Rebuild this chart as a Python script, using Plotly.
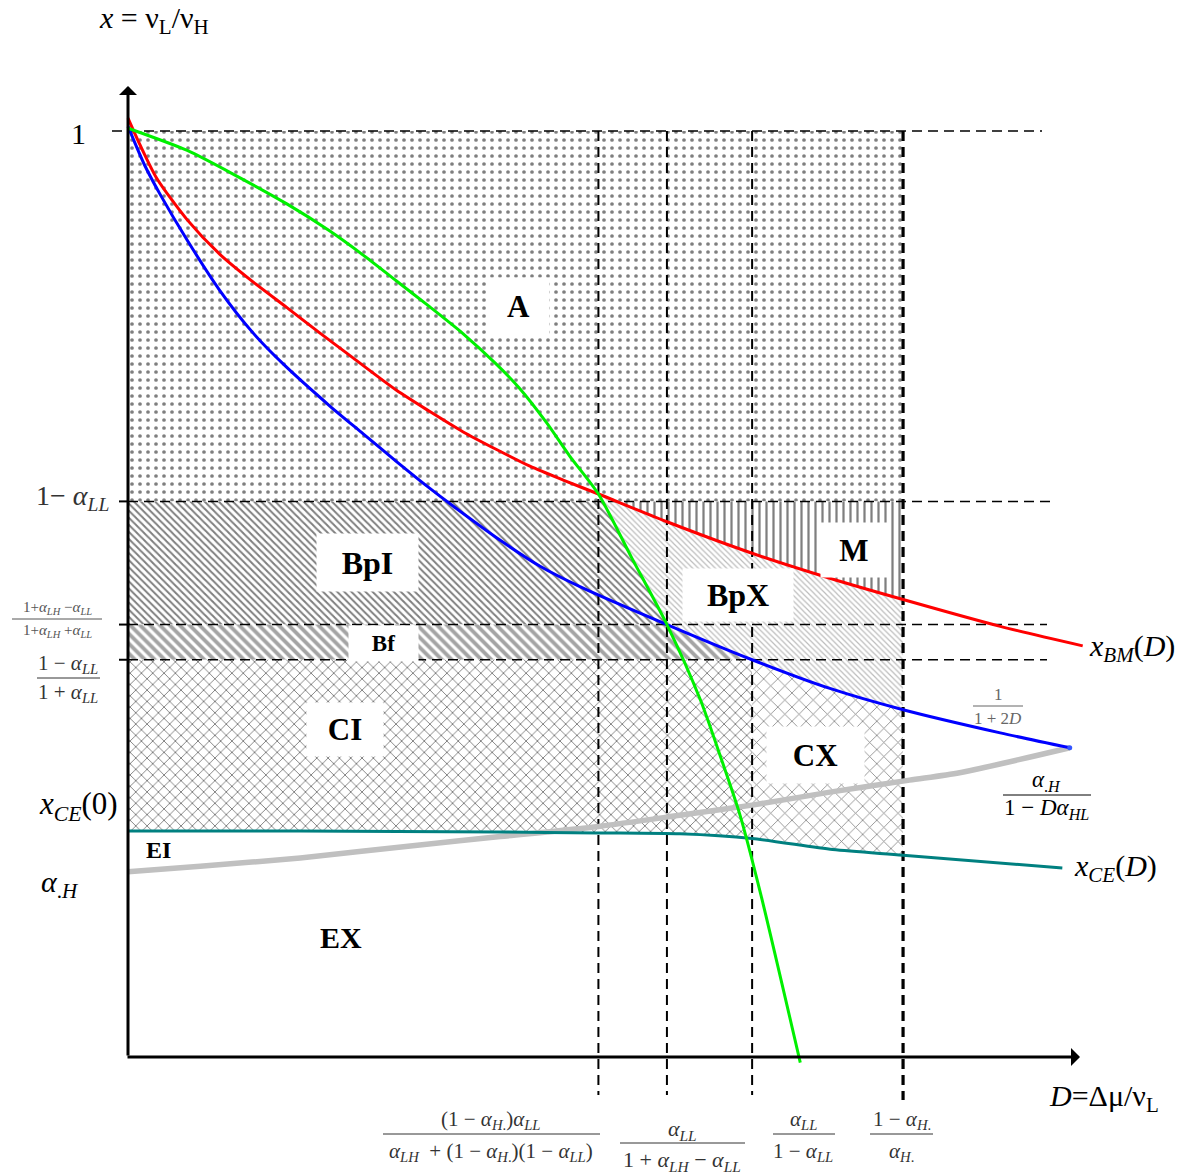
import numpy as np
import plotly.graph_objects as go

# ---------------- data (D = Δμ/νL on x, x = νL/νH on y) -------------
red_D = [0.000, 0.013, 0.031, 0.064, 0.099, 0.135, 0.172, 0.207, 0.243, 0.290, 0.326, 0.362,
         0.398, 0.434, 0.470, 0.508, 0.582, 0.674, 0.758, 0.837, 0.942, 1.031]
red_x = [1.014, 0.985, 0.949, 0.904, 0.867, 0.837, 0.809, 0.782, 0.755, 0.720, 0.697, 0.675,
         0.656, 0.638, 0.623, 0.608, 0.578, 0.544, 0.517, 0.494, 0.465, 0.444]

blue_D = [0.000, 0.018, 0.035, 0.064, 0.099, 0.135, 0.167, 0.218, 0.254, 0.290, 0.326, 0.351,
          0.402, 0.445, 0.488, 0.582, 0.674, 0.758, 0.837, 0.942, 1.017]
blue_x = [1.005, 0.963, 0.931, 0.882, 0.828, 0.782, 0.749, 0.703, 0.673, 0.643, 0.614, 0.595,
          0.558, 0.530, 0.508, 0.467, 0.429, 0.398, 0.375, 0.350, 0.334]

green_D = [0.000, 0.064, 0.118, 0.172, 0.218, 0.254, 0.290, 0.326, 0.362, 0.398, 0.423, 0.452,
           0.477, 0.508, 0.544, 0.582, 0.618, 0.641, 0.661, 0.683, 0.726]
green_x = [1.003, 0.979, 0.951, 0.921, 0.892, 0.866, 0.838, 0.810, 0.781, 0.748, 0.722, 0.685,
           0.649, 0.608, 0.539, 0.467, 0.386, 0.321, 0.261, 0.177, -0.006]

teal_D = [0.000, 0.186, 0.402, 0.508, 0.596, 0.674, 0.761, 0.837, 1.009]
teal_x = [0.244, 0.244, 0.243, 0.242, 0.241, 0.236, 0.224, 0.218, 0.204]

gray_D = [0.000, 0.078, 0.186, 0.315, 0.402, 0.508, 0.596, 0.674, 0.758, 0.844, 0.898, 1.017]
gray_x = [0.200, 0.206, 0.215, 0.229, 0.238, 0.249, 0.261, 0.272, 0.286, 0.299, 0.307, 0.334]

# horizontal levels: 1, 1-αLL, (1+αLH-αLL)/(1+αLH+αLL), (1-αLL)/(1+αLL)
levels_x = [1.0, 0.600, 0.467, 0.429]
# vertical thresholds on D
ticks_D = [0.508, 0.582, 0.674, 0.837]

# ---------------- helpers ----------------
SX = 926.0
X0, Y0 = 128.0, 1057.0
W, H = 1181, 1176
FONT = "Liberation Serif, Times New Roman, serif"


def seg(D, X, d0, d1):
    D = np.asarray(D, float)
    X = np.asarray(X, float)
    inner = D[(D > d0) & (D < d1)]
    pd = np.concatenate([[d0], inner, [d1]])
    return list(pd), list(np.interp(pd, D, X))


def inv(D, X, level):
    return float(np.interp(level, np.asarray(X)[::-1], np.asarray(D)[::-1]))


L1, LA, LB, LC = levels_x
T1, T2, T3, T4 = ticks_D

fig = go.Figure()


def region(xs, ys, pattern):
    fig.add_trace(go.Scatter(x=xs, y=ys, fill="toself", mode="lines",
                             line=dict(width=0, color="rgba(0,0,0,0)"),
                             fillcolor="white", fillpattern=pattern,
                             hoverinfo="skip", showlegend=False))


# A: dotted rectangle
region([0, T4, T4, 0, 0], [LA, LA, L1, L1, LA],
       dict(shape=".", size=8, solidity=0.17, fgcolor="black", bgcolor="white"))

# M: above red, below 1-αLL
d0 = inv(red_D, red_x, LA)
sd, sx = seg(red_D, red_x, d0, T4)
region(sd + [T4, d0], sx + [LA, LA],
       dict(shape="|", size=7, solidity=0.32, fgcolor="black", bgcolor="white"))

# BpI: band between LB and LA, left of green
g0 = inv(green_D, green_x, LA)
gd, gx = seg(green_D, green_x, g0, T2)
region([0] + gd + [0], [LA] + gx + [LB],
       dict(shape="\\", size=5, solidity=0.4, fgcolor="black", bgcolor="white"))

# BpX: right of green, between red and blue
rd, rx = seg(red_D, red_x, T1, T4)
bd, bx = seg(blue_D, blue_x, T2, T4)
gd2, gx2 = seg(green_D, green_x, T1, T2)
region(rd + bd[::-1] + gd2[::-1], rx + bx[::-1] + gx2[::-1],
       dict(shape="\\", size=4, solidity=0.3, fgcolor="#7a7a7a", bgcolor="white"))

# Bf: band between LC and LB, left of blue
bd3, bx3 = seg(blue_D, blue_x, T2, T3)
region([0] + bd3 + [0], [LB] + bx3 + [LC],
       dict(shape="\\", size=7, solidity=0.55, fgcolor="#4a4a4a", bgcolor="white"))

# CI: below LC, above teal, left of T3
td, tx = seg(teal_D, teal_x, 0, T3)
region([0, T3] + td[::-1], [LC, LC] + tx[::-1],
       dict(shape="x", size=8, solidity=0.22, fgcolor="black", bgcolor="white"))

# CX: below blue, above teal, T3..T4
bd4, bx4 = seg(blue_D, blue_x, T3, T4)
td4, tx4 = seg(teal_D, teal_x, T3, T4)
region(bd4 + td4[::-1], bx4 + tx4[::-1],
       dict(shape="x", size=10, solidity=0.15, fgcolor="black", bgcolor="white"))

# ---------------- dashed reference lines ----------------
dash = "10px,6px"
h_ext = [(-16 / SX, (1042 - X0) / SX), (0, (1050 - X0) / SX),
         (0, (1047 - X0) / SX), (0, (1047 - X0) / SX)]
for lv, (a, b) in zip(levels_x, h_ext):
    fig.add_trace(go.Scatter(x=[a, b], y=[lv, lv], mode="lines",
                             line=dict(color="black", width=1.5, dash=dash),
                             hoverinfo="skip", showlegend=False))
for i, d in enumerate(ticks_D):
    bottom = (Y0 - 1095) / SX if i < 3 else (Y0 - 1100) / SX
    fig.add_trace(go.Scatter(x=[d, d], y=[L1, bottom], mode="lines",
                             line=dict(color="black", width=2 if i < 3 else 3.2, dash=dash),
                             hoverinfo="skip", showlegend=False))

# ---------------- curves ----------------
curves = [(gray_D, gray_x, "#c0c0c0", 5.5),
          (teal_D, teal_x, "#008080", 3),
          (red_D, red_x, "#ff0000", 3),
          (blue_D, blue_x, "#0000ff", 3),
          (green_D, green_x, "#00f000", 3)]
for cd, cx, col, w in curves:
    fig.add_trace(go.Scatter(x=cd, y=cx, mode="lines",
                             line=dict(color=col, width=w, shape="spline", smoothing=0.7),
                             hoverinfo="skip", showlegend=False))
fig.add_trace(go.Scatter(x=[blue_D[-1]], y=[blue_x[-1]], mode="markers",
                         marker=dict(color="#3355ff", size=5), hoverinfo="skip", showlegend=False))

# ---------------- axes ----------------
shapes = []
for lv in levels_x[1:]:
    shapes.append(dict(type="line", xref="x", yref="y", x0=-9 / SX, x1=0, y0=lv, y1=lv,
                       line=dict(color="black", width=2)))


def P(px, py):
    return px / W, 1 - py / H


ann = []
# y axis arrow
ann.append(dict(x=0, y=(Y0 - 86) / SX, ax=0, ay=0, xref="x", yref="y", axref="x", ayref="y",
                showarrow=True, arrowhead=1, arrowsize=1, arrowwidth=3, arrowcolor="black", text="",
                standoff=0, startstandoff=0))
ann.append(dict(x=(1080 - X0) / SX, y=0, ax=-2 / SX, ay=0, xref="x", yref="y", axref="x", ayref="y",
                showarrow=True, arrowhead=1, arrowsize=1, arrowwidth=3, arrowcolor="black", text="",
                standoff=0, startstandoff=0))


def txt(px, py, s, size, color="black", xanchor="center", bg=None, w=None, h=None):
    x, y = P(px, py)
    d = dict(x=x, y=y, xref="paper", yref="paper", text=s, showarrow=False,
             font=dict(family=FONT, size=size, color=color), xanchor=xanchor, yanchor="middle")
    if bg:
        d.update(bgcolor=bg, width=w, height=h, borderpad=0)
    ann.append(d)


def frac(cx, ytop, ybot, yline, x0, x1, num, den, size, color="black"):
    txt(cx, ytop, num, size, color)
    txt(cx, ybot, den, size, color)
    a, b = P(x0, yline)
    c, _ = P(x1, yline)
    shapes.append(dict(type="line", xref="paper", yref="paper", x0=a, x1=c, y0=b, y1=b,
                       line=dict(color=color, width=1)))


# region labels with white boxes
txt(518, 307, "<b>A</b>", 31, bg="white", w=61, h=57)
txt(367, 563, "<b>BpI</b>", 32, bg="white", w=101, h=57)
txt(383, 643, "<b>Bf</b>", 23, bg="white", w=69, h=35)
txt(345, 729, "<b>CI</b>", 31, bg="white", w=76, h=53)
txt(738, 595, "<b>BpX</b>", 32, bg="white", w=110, h=52)
txt(854, 550, "<b>M</b>", 31, bg="white", w=66, h=54)
txt(815, 755, "<b>CX</b>", 31, bg="white", w=97, h=56)
txt(158, 850, "<b>EI</b>", 24)
txt(341, 937, "<b>EX</b>", 30)

# axis titles
txt(154, 20, "<i>x</i> = ν<sub>L</sub>/ν<sub>H</sub>", 30)
txt(1104, 1098, "<i>D</i>=Δμ/ν<sub>L</sub>", 30)

# y-axis labels
txt(78, 133, "1", 30)
txt(72, 497, "1− <i>α</i><sub><i>LL</i></sub>", 28, color="#333333")
frac(57, 608, 631, 619, 12, 102,
     "1+<i>α</i><sub><i>LH</i></sub> −<i>α</i><sub><i>LL</i></sub>",
     "1+<i>α</i><sub><i>LH</i></sub> +<i>α</i><sub><i>LL</i></sub>", 15, color="#555555")
frac(68, 664, 693, 678, 37, 100, "1 − <i>α</i><sub><i>LL</i></sub>",
     "1 + <i>α</i><sub><i>LL</i></sub>", 21, color="#333333")
txt(78, 806, "<i>x</i><sub><i>CE</i></sub>(0)", 31)
txt(60, 884, "<i>α</i><sub>.<i>H</i></sub>", 30)

# right-side labels
txt(1087, 648, "<i>x</i><sub><i>BM</i></sub>(<i>D</i>)", 30, xanchor="left")
frac(998, 694, 718, 706, 973, 1023, "1", "1 + 2<i>D</i>", 17, color="#666666")
frac(1046, 781, 809, 795, 1003, 1091, "<i>α</i><sub>.<i>H</i></sub>",
     "1 − <i>Dα</i><sub><i>HL</i></sub>", 23)
txt(1072, 868, "<i>x</i><sub><i>CE</i></sub>(<i>D</i>)", 30, xanchor="left")

# bottom labels
frac(491, 1120, 1152, 1134, 383, 600,
     "(1 − <i>α</i><sub><i>H</i>.</sub>)<i>α</i><sub><i>LL</i></sub>",
     "<i>α</i><sub><i>LH</i></sub>  + (1 − <i>α</i><sub><i>H</i>.</sub>)(1 − <i>α</i><sub><i>LL</i></sub>)", 21, color="#333333")
frac(682, 1130, 1161, 1143, 620, 745, "<i>α</i><sub><i>LL</i></sub>",
     "1 + <i>α</i><sub><i>LH</i></sub> − <i>α</i><sub><i>LL</i></sub>", 22, color="#333333")
frac(803, 1120, 1152, 1134, 773, 835, "<i>α</i><sub><i>LL</i></sub>",
     "1 − <i>α</i><sub><i>LL</i></sub>", 21, color="#333333")
frac(902, 1120, 1152, 1134, 870, 933, "1 − <i>α</i><sub><i>H</i>.</sub>",
     "<i>α</i><sub><i>H</i>.</sub>", 21, color="#333333")

fig.update_layout(
    width=W, height=H, margin=dict(l=0, r=0, t=0, b=0),
    plot_bgcolor="white", paper_bgcolor="white",
    xaxis=dict(range=[-X0 / SX, (W - X0) / SX], visible=False, fixedrange=True),
    yaxis=dict(range=[(Y0 - H) / SX, Y0 / SX], visible=False, fixedrange=True),
    shapes=shapes, annotations=ann, showlegend=False,
)

fig.write_html("out.html", config={"displayModeBar": False},
               post_script="document.body.style.margin='0';document.body.style.overflow='hidden';")
